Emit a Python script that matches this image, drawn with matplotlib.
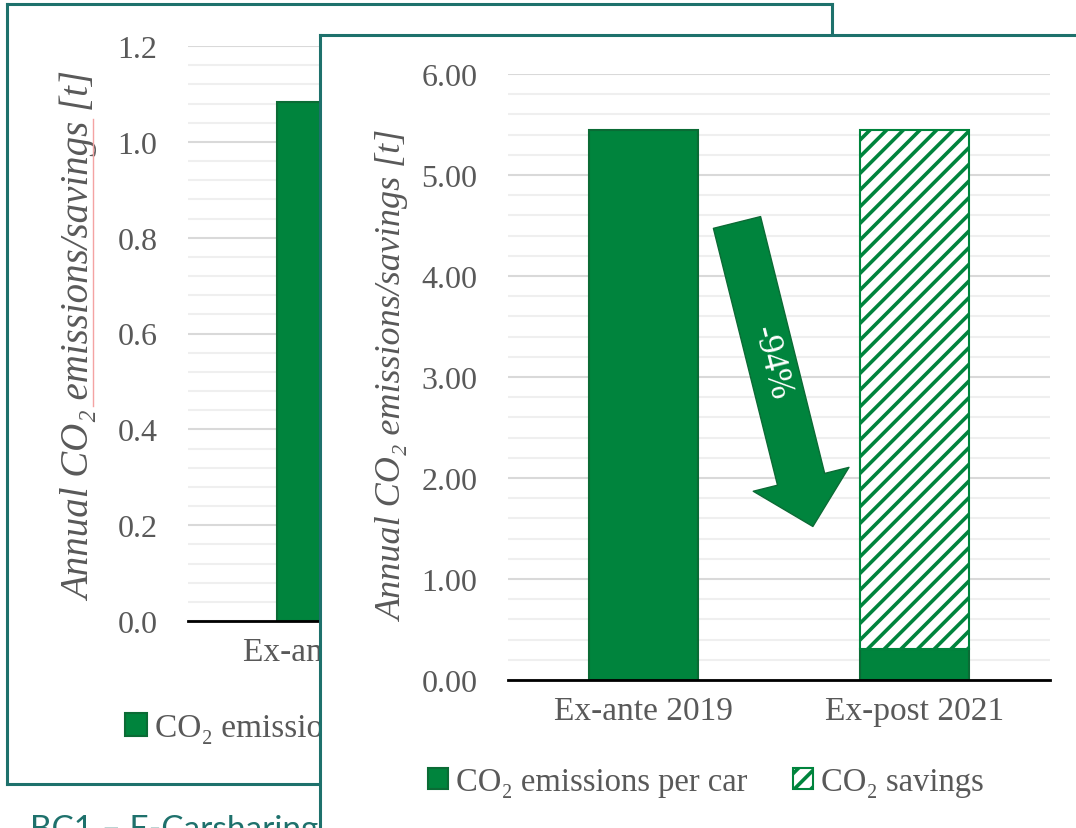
import numpy as np
import matplotlib
matplotlib.use("Agg")
import matplotlib.pyplot as plt
from matplotlib.patches import FancyArrowPatch
from matplotlib.lines import Line2D
from matplotlib.ticker import MultipleLocator, FormatStrFormatter

# ---------------------------------------------------------------------
# data
# ---------------------------------------------------------------------
# back chart (mostly hidden behind the front one)
back_categories = ["Ex-ante 2019"]
back_emissions = [1.083]

# front chart
categories = ["Ex-ante 2019", "Ex-post 2021"]
emissions = [5.445, 0.31]
savings = [0.0, 5.135]
reduction_text = "-94%"
arrow_tail = (0.345, 4.53)
arrow_tip = (0.625, 1.52)
reduction_pos = (0.47, 3.14)

caption = "BC1 – E-Carsharing"
ylabel = "Annual CO₂ emissions/savings [t]"
label_emis = "CO₂ emissions per car"
label_save = "CO₂ savings"

GREEN = "#00843D"
EDGE = "#0B6B35"
TEAL = "#1E716C"
GRAY = "#595959"

plt.rcParams["font.family"] = ["Liberation Serif", "DejaVu Serif"]
plt.rcParams["hatch.linewidth"] = 2.6

W, H = 1076, 829
fig = plt.figure(figsize=(W / 100, H / 100), dpi=100)


def rect(l, t, r, b):
    """pixel box -> figure fraction [left, bottom, width, height]"""
    return [l / W, 1 - b / H, (r - l) / W, (b - t) / H]


def style_chart(ax, ymax, major, minor, fmt):
    ax.set_ylim(0, ymax)
    ax.yaxis.set_major_locator(MultipleLocator(major))
    ax.yaxis.set_minor_locator(MultipleLocator(minor))
    ax.yaxis.set_major_formatter(FormatStrFormatter(fmt))
    ax.grid(axis="y", which="major", color="#d9d9d9", lw=1.5)
    ax.grid(axis="y", which="minor", color="#efefef", lw=1.5)
    ax.set_axisbelow(True)
    for side in ["left", "right", "top"]:
        ax.spines[side].set_visible(False)
    ax.spines["bottom"].set_color("black")
    ax.spines["bottom"].set_linewidth(2)
    ax.tick_params(axis="both", which="both", length=0, colors=GRAY)
    ax.tick_params(axis="y", labelsize=23, pad=22)
    ax.tick_params(axis="x", labelsize=24, pad=11)


def frame(ax):
    ax.set_xticks([])
    ax.set_yticks([])
    for s in ax.spines.values():
        s.set_color(TEAL)
        s.set_linewidth(2.2)


# ---------------- back slide panel ----------------
back_frame = fig.add_axes(rect(7, 5, 832, 785), zorder=0)
frame(back_frame)

back_ax = fig.add_axes(rect(188, 47, 764, 622), zorder=1)
back_ax.set_facecolor("none")
bx = np.arange(len(back_categories))
bb = back_ax.bar(bx, back_emissions, width=0.38, color=GREEN, edgecolor=EDGE, lw=1.5)
back_ax.set_xlim(-0.5, 1.5)
back_ax.set_xticks(bx, back_categories)
style_chart(back_ax, 1.2, 0.2, 0.04, "%.1f")
back_ax.set_ylabel(ylabel, style="italic", fontsize=28, color=GRAY, va="center")
back_ax.yaxis.set_label_coords(-0.186, 0.497)
back_ax.legend([bb], [label_emis], loc="center left",
               bbox_to_anchor=(125 / W, 1 - 729 / H), bbox_transform=fig.transFigure,
               frameon=False, fontsize=24, labelcolor=GRAY, borderpad=0,
               borderaxespad=0, handlelength=0.65, handleheight=0.65, handletextpad=0.25)

# spell-check squiggle under the back label
fig.add_artist(Line2D([93 / W, 93 / W], [1 - 120 / H, 1 - 407 / H],
                      color="#f4a3a3", lw=1, zorder=1.2))

# slide caption, cut by the bottom edge as on the slide
fig.text(30 / W, 1 - 815 / H, caption, color=TEAL, family="Lato", fontsize=24,
         va="top", zorder=1.5)

# ---------------- front slide panel ----------------
front_frame = fig.add_axes(rect(320, 36, 1300, 1100), zorder=2)
frame(front_frame)

ax = fig.add_axes(rect(508, 75, 1050, 681), zorder=3)
ax.set_facecolor("none")
x = np.arange(len(categories))
b1 = ax.bar(x, emissions, width=0.4, color=GREEN, edgecolor=EDGE, lw=1.5)
sx = [i for i in x if savings[i] > 0]
b2 = ax.bar(sx, [savings[i] for i in sx], bottom=[emissions[i] for i in sx], width=0.4,
            color="white", edgecolor=GREEN, hatch="//", lw=1.5)
ax.set_xlim(-0.5, 1.5)
ax.set_xticks(x, categories)
style_chart(ax, 6, 1, 0.2, "%.2f")
ax.set_ylabel(ylabel, style="italic", fontsize=26, color=GRAY, va="center")
ax.yaxis.set_label_coords(-0.212, 0.505)

arrow = FancyArrowPatch(arrow_tail, arrow_tip, mutation_scale=1,
                        arrowstyle="simple,head_length=35,head_width=71,tail_width=35",
                        shrinkA=0, shrinkB=0, facecolor=GREEN, edgecolor=EDGE, lw=1,
                        zorder=4)
ax.add_patch(arrow)
ax.text(*reduction_pos, reduction_text, color="white", fontsize=25, rotation=-76,
        ha="center", va="center", rotation_mode="anchor", zorder=5)

ax.legend([b1, b2], [label_emis, label_save], loc="center", ncol=2,
          bbox_to_anchor=(706 / W, 1 - 783 / H), bbox_transform=fig.transFigure,
          frameon=False, fontsize=23.5, labelcolor=GRAY, borderpad=0, borderaxespad=0,
          handlelength=0.6, handleheight=0.6, handletextpad=0.25, columnspacing=1.4)

fig.savefig("out.png", dpi=100)
